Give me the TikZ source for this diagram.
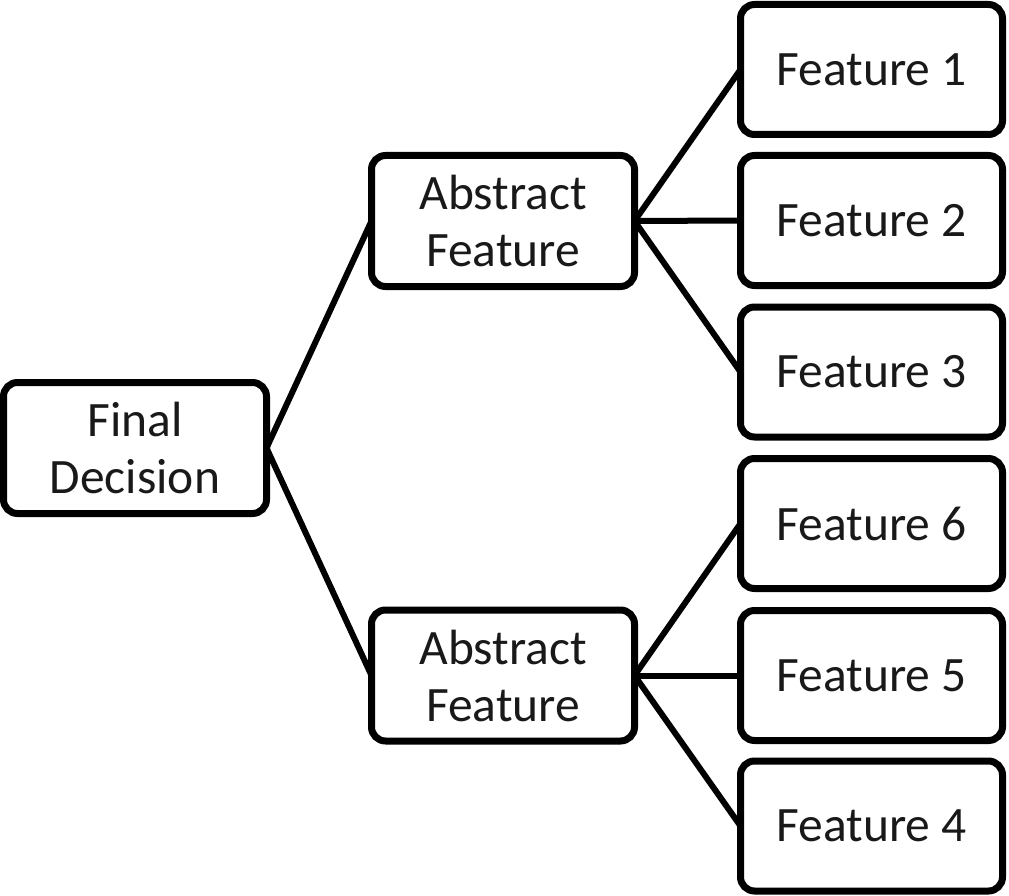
\documentclass[tikz,border=0pt]{standalone}
\usepackage{fontspec}
\setmainfont{Carlito}
\begin{document}
\begin{tikzpicture}[x=1pt,y=-1pt,
  box/.style={draw=black, line width=7pt, rounded corners=14pt, fill=white,
    minimum width=263pt, minimum height=131pt, inner sep=0pt, outer sep=0pt,
    align=center, font=\fontsize{49.5}{57}\selectfont, text=black!90},
  link/.style={draw=black, line width=6pt}]
\useasboundingbox (0,0) rectangle (1009,896);
\node[box] (fd) at (135,448) {Final\\Decision};
\node[box] (a1) at (503,221) {Abstract\\Feature};
\node[box] (a2) at (503,675.5) {Abstract\\Feature};
\node[box, minimum width=262pt, minimum height=130pt] (f1) at (871.5,69.5) {Feature 1};
\node[box, minimum width=262pt, minimum height=130pt] (f2) at (871.5,220.5) {Feature 2};
\node[box, minimum width=262pt, minimum height=130pt] (f3) at (871.5,372) {Feature 3};
\node[box, minimum width=262pt, minimum height=130pt] (f6) at (871.5,523.5) {Feature 6};
\node[box, minimum width=262pt, minimum height=130pt] (f5) at (871.5,675.5) {Feature 5};
\node[box, minimum width=262pt, minimum height=130pt] (f4) at (871.5,826) {Feature 4};
\begin{scope}[on background layer/.try]
\end{scope}
\draw[link] (fd.east) -- (a1.west);
\draw[link] (fd.east) -- (a2.west);
\draw[link] (a1.east) -- (f1.west);
\draw[link] (a1.east) -- (f2.west);
\draw[link] (a1.east) -- (f3.west);
\draw[link] (a2.east) -- (f6.west);
\draw[link] (a2.east) -- (f5.west);
\draw[link] (a2.east) -- (f4.west);
\end{tikzpicture}
\end{document}
